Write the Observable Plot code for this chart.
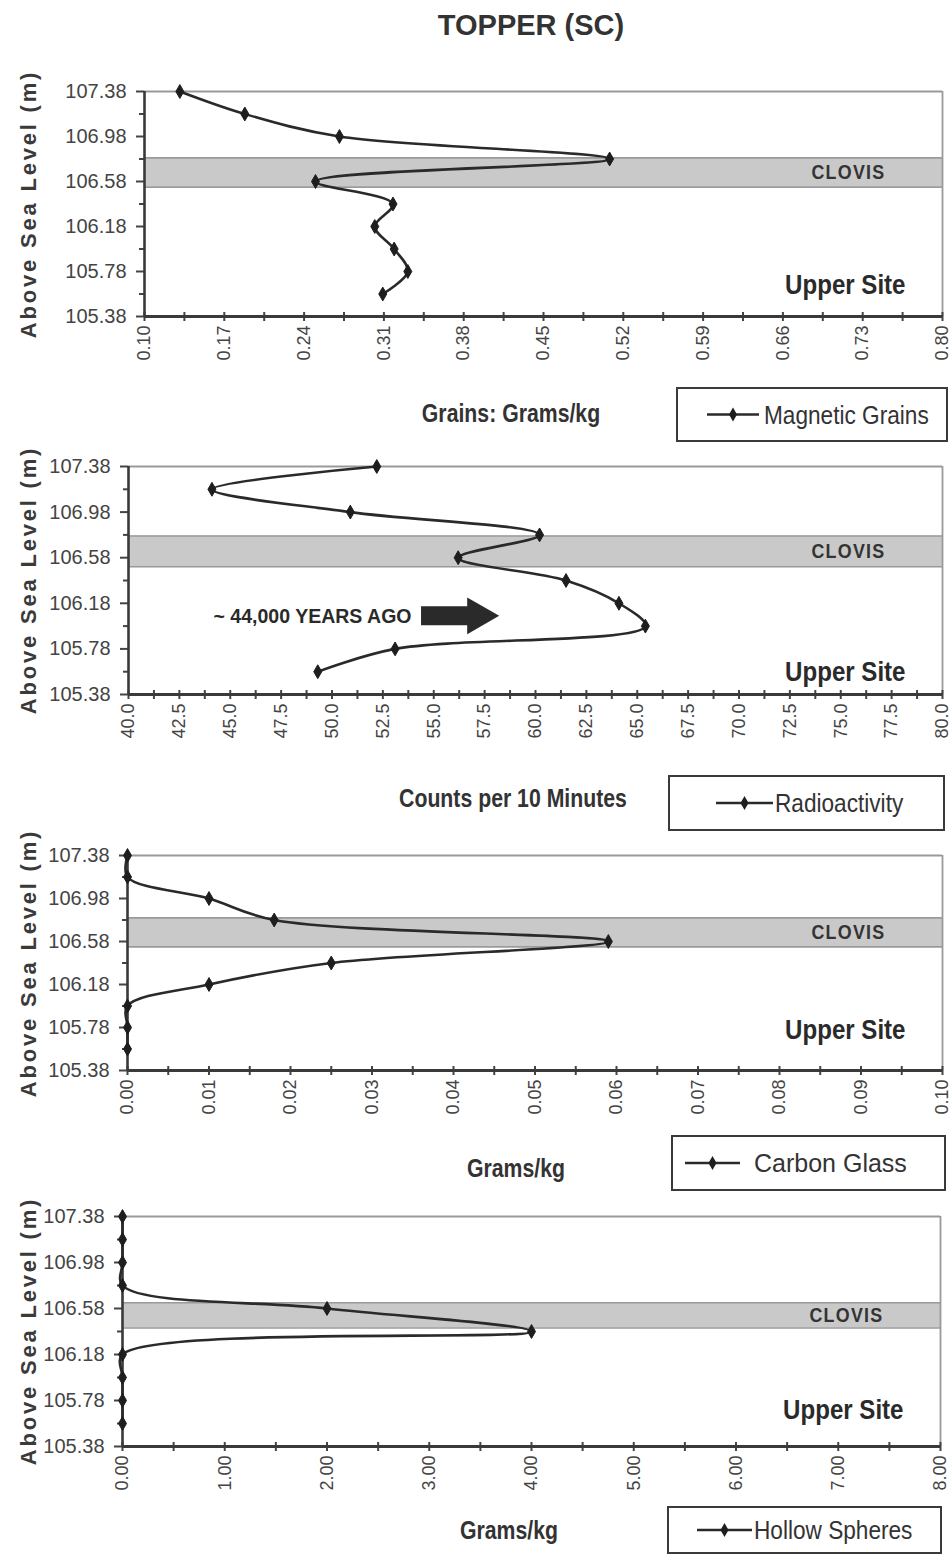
<!DOCTYPE html>
<html><head><meta charset="utf-8">
<script src="https://cdn.jsdelivr.net/npm/d3@7"></script>
<script src="https://cdn.jsdelivr.net/npm/@observablehq/plot@0.6"></script>
<style>
body{margin:0;background:#fff;}
#root{position:relative;width:952px;height:1568px;overflow:hidden;background:#fff;font-family:"Liberation Sans",Arial,sans-serif;color:#333;}
.abs{position:absolute;white-space:nowrap;}
.title{font-weight:bold;font-size:29px;color:#333;transform:translate(-50%,-50%);}
.ylab{font-weight:bold;font-size:22px;letter-spacing:2.8px;color:#3a3a3a;transform:translate(-50%,-50%) rotate(-90deg);}
.xlab{font-weight:bold;font-size:25px;color:#333;transform:translate(-50%,-50%) scaleX(0.85);}
.legend{border:2px solid #3a3a3a;box-sizing:border-box;background:#fff;}
.legend .lt{position:absolute;top:50%;font-size:26px;color:#333;transform-origin:0 50%;transform:translateY(-50%) scaleX(0.87);white-space:nowrap;}
.legend svg{position:absolute;left:0;top:0;}
</style></head><body><div id="root"></div>
<script>
// ---- data ----
const depths = [107.38, 107.18, 106.98, 106.78, 106.58, 106.38, 106.18, 105.98, 105.78, 105.58];
const magneticGrains = [0.131, 0.188, 0.271, 0.508, 0.250, 0.318, 0.302, 0.319, 0.331, 0.309];
const radioactivity = [52.2, 44.1, 50.9, 60.2, 56.2, 61.5, 64.1, 65.4, 53.1, 49.3];
const carbonGlass = [0.000, 0.000, 0.010, 0.018, 0.059, 0.025, 0.010, 0.000, 0.000, 0.000];
const hollowSpheres = [0.00, 0.00, 0.00, 0.00, 2.00, 4.00, 0.00, 0.00, 0.00, 0.00];

const depthTicks = [107.38, 106.98, 106.58, 106.18, 105.78, 105.38];
const depthMinorTicks = [107.18, 106.78, 106.38, 105.98, 105.58];
const magTicks = [0.10, 0.17, 0.24, 0.31, 0.38, 0.45, 0.52, 0.59, 0.66, 0.73, 0.80];
const radTicks = [40.0, 42.5, 45.0, 47.5, 50.0, 52.5, 55.0, 57.5, 60.0, 62.5, 65.0, 67.5, 70.0, 72.5, 75.0, 77.5, 80.0];
const carbonTicks = [0.00, 0.01, 0.02, 0.03, 0.04, 0.05, 0.06, 0.07, 0.08, 0.09, 0.10];
const hollowTicks = [0, 1, 2, 3, 4, 5, 6, 7, 8];

const clovisBands = [[106.53, 106.79], [106.50, 106.77], [106.53, 106.80], [106.41, 106.63]];
const seriesNames = ["Magnetic Grains", "Radioactivity", "Carbon Glass", "Hollow Spheres"];
const xTitles = ["Grains: Grams/kg", "Counts per 10 Minutes", "Grams/kg", "Grams/kg"];
const ageLabel = ["~ 44,000 YEARS AGO"];
const ageDepth = [106.07];
const ageArrowFrom = [54.4];
const ageArrowTo = [58.2];

// ---- layout (style only) ----
const panels = [
  {values: magneticGrains, ticks: magTicks, fmt: d => d.toFixed(2), top: 91, bottom: 316, left: 144, right: 942,
   xTitle: [511, 413], legend: [676, 387, 272, 55], lineAt: [29, 81], textAt: 86, upperDy: -31, narrow: true},
  {values: radioactivity, ticks: radTicks, fmt: d => d.toFixed(1), top: 466, bottom: 694, left: 128, right: 942,
   xTitle: [513, 798], legend: [668, 775, 277, 56], lineAt: [46, 103], textAt: 105, upperDy: -22, narrow: true, age: true},
  {values: carbonGlass, ticks: carbonTicks, fmt: d => d.toFixed(2), top: 855, bottom: 1070, left: 127, right: 942,
   xTitle: [516, 1168], legend: [671, 1135, 275, 56], lineAt: [12, 67], textAt: 81, upperDy: -40, narrow: false},
  {values: hollowSpheres, ticks: hollowTicks, fmt: d => d.toFixed(2), top: 1216, bottom: 1446, left: 122, right: 940,
   xTitle: [509, 1530], legend: [667, 1506, 275, 48], lineAt: [28, 83], textAt: 85, upperDy: -36, narrow: true}
];

const root = document.getElementById("root");
function addDiv(cls, html, x, y, extra) {
  const d = document.createElement("div");
  d.className = "abs " + cls;
  d.innerHTML = html;
  d.style.left = x + "px"; d.style.top = y + "px";
  if (extra) Object.assign(d.style, extra);
  root.appendChild(d);
  return d;
}
addDiv("title", "TOPPER (SC)", 531, 25);

// condense selected SVG texts horizontally around their anchor
function condense(svg, scales) {
  d3.select(svg).selectAll("text").each(function() {
    const s = scales[this.textContent];
    if (!s) return;
    const t = this.getAttribute("transform") || "";
    const x = +this.getAttribute("x") || 0;
    this.setAttribute("transform", `${t} translate(${x},0) scale(${s.k},1) translate(${-x},0)`);
    if (s.ls) this.style.letterSpacing = s.ls + "px";
  });
}
const condensedTexts = {
  "CLOVIS": {k: 0.85, ls: 1.5},
  "Upper Site": {k: 0.86},
  [ageLabel[0]]: {k: 0.93}
};

const MT = 10, MB = 90;
panels.forEach((p, i) => {
  const data = depths.map((d, k) => ({depth: d, value: p.values[k]}));
  const xDom = [p.ticks[0], p.ticks[p.ticks.length - 1]];
  const yDom = [depthTicks[depthTicks.length - 1], depthTicks[0]];
  const minor = d3.pairs(p.ticks).map(([a, b]) => (a + b) / 2);
  const band = clovisBands[i];
  const marks = [
    Plot.rect([band], {y1: d => d[0], y2: d => d[1], fill: "#c9c9c9"}),
    Plot.ruleY(band, {stroke: "#9a9a9a", strokeWidth: 1.6}),
    Plot.ruleY([yDom[1]], {stroke: "#9a9a9a", strokeWidth: 2.2}),
    Plot.ruleX([xDom[1]], {stroke: "#9a9a9a", strokeWidth: 1.8}),
    Plot.axisY({ticks: depthTicks, tickFormat: d => d.toFixed(2), label: null, tickSize: 8, tickPadding: 10, fontSize: 20, fill: "#444", stroke: "#444", strokeWidth: 2}),
    Plot.axisY({ticks: depthMinorTicks, tickFormat: () => "", label: null, tickSize: 5, stroke: "#444", strokeWidth: 2}),
    Plot.axisX({ticks: p.ticks, tickFormat: p.fmt, label: null, tickRotate: -90, tickSize: 9, dy: -4, tickPadding: 4, fontSize: 18, fill: "#444", stroke: "#444", strokeWidth: 2}),
    Plot.axisX({ticks: minor, tickFormat: () => "", label: null, tickSize: 9, dy: -4, stroke: "#444", strokeWidth: 2}),
    Plot.ruleY([yDom[0]], {stroke: "#3a3a3a", strokeWidth: 3}),
    Plot.ruleX([xDom[0]], {stroke: "#3a3a3a", strokeWidth: 2.6}),
    Plot.line(data, {x: "value", y: "depth", curve: "catmull-rom", stroke: "#2a2a2a", strokeWidth: 2.6}),
    Plot.dot(data, {x: "value", y: "depth", symbol: "diamond", r: 4.2, fill: "#1e1e1e", stroke: "#1e1e1e", strokeWidth: 1}),
    Plot.text([band], {y: d => (d[0] + d[1]) / 2, frameAnchor: "right", textAnchor: "end", dx: -57, text: () => "CLOVIS",
      fontWeight: "bold", fontSize: 21, fill: "#333"}),
    Plot.text(["Upper Site"], {frameAnchor: "bottom-right", textAnchor: "end", lineAnchor: "middle", dx: -37, dy: p.upperDy,
      text: d => d, fontWeight: "bold", fontSize: 28, fill: "#2a2a2a"})
  ];
  if (p.age) {
    const age = ageLabel.map((t, k) => ({text: t, depth: ageDepth[k], from: ageArrowFrom[k], to: ageArrowTo[k]}));
    marks.push(
      Plot.text(age, {x: "from", y: "depth", text: "text", textAnchor: "end", dx: -10, fontWeight: "bold", fontSize: 21, fill: "#2a2a2a"}),
      Plot.ruleY(age, {x1: "from", x2: "to", y: "depth", stroke: "#2a2a2a", strokeWidth: 19, insetRight: 26}),
      Plot.dot(age, {x: "to", y: "depth", symbol: "triangle", rotate: 90, r: 13.7, dx: -21, fill: "#2a2a2a"})
    );
  }
  const svg = Plot.plot({
    width: 952,
    height: MT + (p.bottom - p.top) + MB,
    marginTop: MT, marginBottom: MB, marginLeft: p.left, marginRight: 952 - p.right,
    x: {domain: xDom, label: null},
    y: {domain: yDom, label: null},
    style: {fontFamily: '"Liberation Sans",Arial,sans-serif', color: "#444", background: "transparent", overflow: "visible"},
    marks
  });
  condense(svg, condensedTexts);
  svg.style.position = "absolute";
  svg.style.left = "0px";
  svg.style.top = (p.top - MT) + "px";
  root.appendChild(svg);

  addDiv("ylab", "Above Sea Level (m)", 29, (p.top + p.bottom) / 2);
  addDiv("xlab", xTitles[i], p.xTitle[0], p.xTitle[1]);

  const [lx, ly, lw, lh] = p.legend;
  const lg = addDiv("legend", "", lx, ly, {width: lw + "px", height: lh + "px"});
  const cy = (lh - 4) / 2;
  const [l0, l1] = p.lineAt;
  lg.innerHTML = `<svg width="${lw - 4}" height="${lh - 4}"><line x1="${l0}" x2="${l1}" y1="${cy}" y2="${cy}" stroke="#2a2a2a" stroke-width="2.6"/><path transform="translate(${(l0 + l1) / 2},${cy})" d="${d3.symbol(d3.symbolDiamond, 4.2 * 4.2 * Math.PI)()}" fill="#1e1e1e"/></svg><span class="lt" style="left:${p.textAt}px;${p.narrow ? "" : "font-size:25px;transform:translateY(-50%)"}">${seriesNames[i]}</span>`;
});
</script>
</body></html>
